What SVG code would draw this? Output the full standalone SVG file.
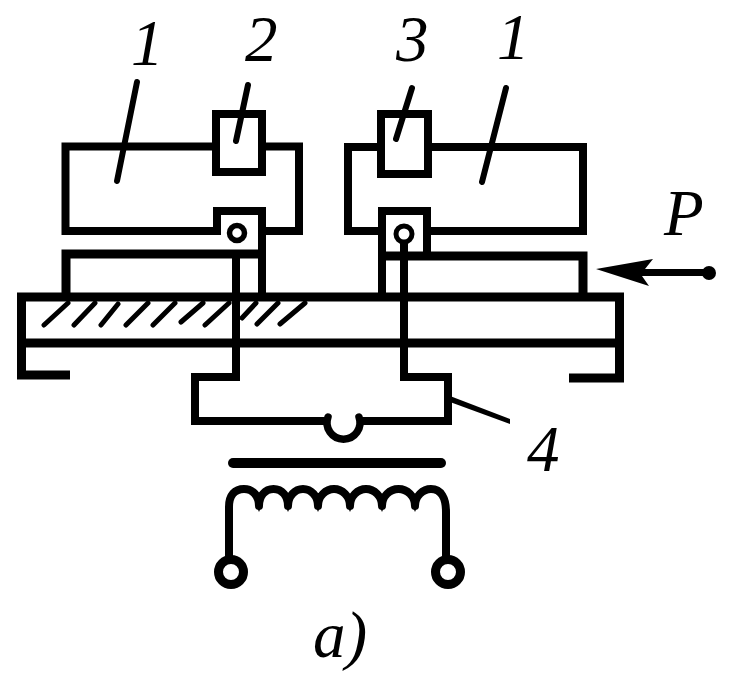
<svg xmlns="http://www.w3.org/2000/svg" width="731" height="694" viewBox="0 0 731 694">
<style>
.l{fill:none;stroke:#000;stroke-width:8;stroke-linejoin:miter}
.h{fill:none;stroke:#000;stroke-width:5;stroke-linecap:round}
.d{fill:none;stroke:#000;stroke-width:6;stroke-linecap:round}
.t{font-family:"Liberation Serif",serif;font-style:italic;fill:#000;font-size:65px}
</style>
<rect width="731" height="694" fill="#fff"/>
<g id="base-plate">
<path class="l" style="stroke-width:9" d="M70 375H21.500V297H624"/>
<path class="l" style="stroke-width:9" d="M21.500 343H620"/>
<path class="l" style="stroke-width:9" d="M619.500 297V378H569"/>
<path class="h" d="M44 325L68 303M74 325L95 303M101 325L118 304M126 325L148 303M153 325L175 303M181 322L203 303M205 325L229 303M242 318L256 303M257 324L278 303M280 324L305 303"/>
</g>
<g id="left-magnet">
<path class="l" d="M214 146.500H65.500V231H214M266 146.500H299V231H266"/>
<rect class="l" x="216" y="114" width="46" height="58"/>
<path class="l" d="M217 235V211H262V297"/>
<path class="l" style="stroke-width:9" d="M66 297V254H262"/>
<circle cx="237" cy="233" r="7.500" fill="none" stroke="#000" stroke-width="5.500"/>
</g>
<g id="right-magnet">
<path class="l" d="M378 147H348V231H378M432 147H583V231H429"/>
<rect class="l" x="381" y="114" width="47" height="60"/>
<path class="l" d="M382 297V211H427V254"/>
<path class="l" style="stroke-width:9" d="M382 256H583V297"/>
<circle cx="404" cy="234" r="8" fill="none" stroke="#000" stroke-width="5"/>
</g>
<g id="connectors">
<path class="l" d="M236 258V377H195V421H328M358 421H448V377H404V241"/>
<path class="l" style="stroke-width:7.500;stroke-linecap:round" d="M328 417A16.500 16.500 0 1 0 359 417"/>
</g>
<g id="transformer">
<path d="M233 463H441" fill="none" stroke="#000" stroke-width="10" stroke-linecap="round"/>
<path class="l" style="stroke-width:8;stroke-linecap:butt;stroke-linejoin:round" d="M229 557V507C229 495 235 489 244 489C253 489 259 496 259 506C259 496 265 489 273.500 489C282 489 288 496 288 506C288 496 295 489 303 489C311 489 318 496 318 506C318 496 326 489 334 489C342 489 350 496 350 506C350 496 358 489 366 489C374 489 382 496 382 506C382 496 390 489 398.500 489C407 489 415 496 415 506C415 496 423 489 431 489C441 489 446 498 446 512V557"/>
<path d="M255 503H263L259 512ZM284 503H292L288 512ZM314 503H322L318 512ZM346 503H354L350 512ZM378 503H386L382 512ZM411 503H419L415 512Z" fill="#000"/>
<circle cx="231" cy="572" r="12.500" fill="#fff" stroke="#000" stroke-width="9"/>
<circle cx="448" cy="572" r="12.500" fill="#fff" stroke="#000" stroke-width="9"/>
</g>
<g id="leaders">
<path class="d" d="M137 82L117 181M248 85L236 141M412 88L396 139M506 88L482 182"/>
<path d="M450 396L510 419V424L450 402Z" fill="#000"/>
</g>
<g id="arrow-P">
<path d="M596 269L653 259L645 269H707V276H642L649 286Z" fill="#000"/>
<circle cx="709" cy="273" r="7" fill="#000"/>
</g>
<g id="labels">
<text class="t" x="131" y="65">1</text>
<text class="t" x="245" y="61">2</text>
<text class="t" x="396" y="61">3</text>
<text class="t" x="497" y="59">1</text>
<text class="t" x="664" y="235">P</text>
<text class="t" x="527" y="471">4</text>
<text class="t" x="313" y="657">a)</text>
</g>
</svg>
